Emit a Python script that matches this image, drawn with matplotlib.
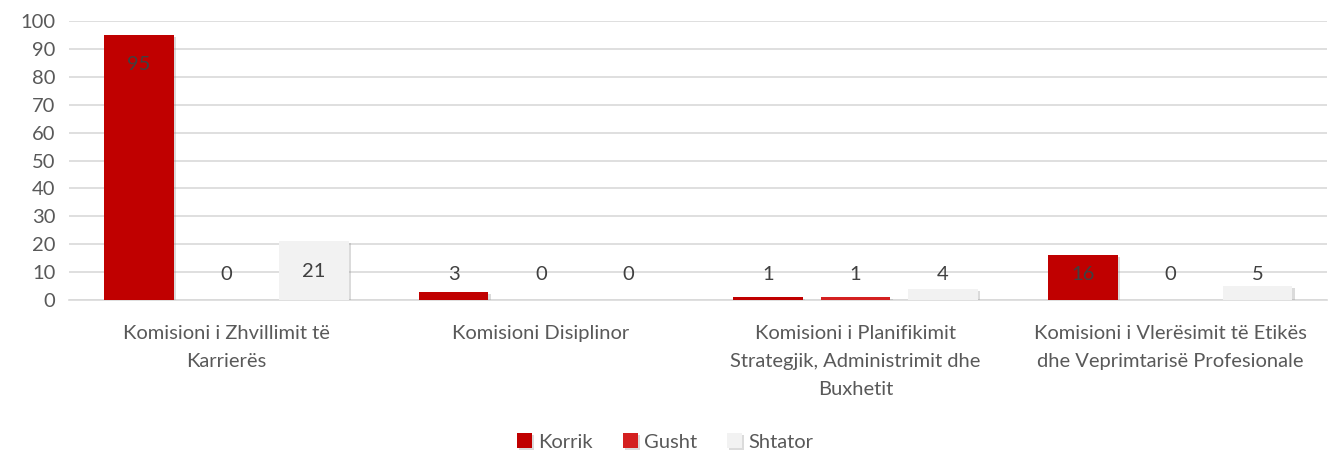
import matplotlib
matplotlib.use("Agg")
import matplotlib.pyplot as plt
import matplotlib.patheffects as pe
import numpy as np

categories = ["Komisioni i Zhvillimit të\nKarrierës",
              "Komisioni Disiplinor",
              "Komisioni i Planifikimit\nStrategjik, Administrimit dhe\nBuxhetit",
              "Komisioni i Vlerësimit të Etikës\ndhe Veprimtarisë Profesionale"]
series_names = ["Korrik", "Gusht", "Shtator"]
korrik = [95, 3, 1, 16]
gusht = [0, 0, 1, 0]
shtator = [21, 0, 4, 5]
colors = ["#C00000", "#D42020", "#F2F2F2"]

plt.rcParams['font.family'] = ['Lato', 'DejaVu Sans']
fig = plt.figure(figsize=(13.3, 4.51), dpi=100)
ax = fig.add_axes([0.052, 0.335, 0.946, 0.618])

x = np.arange(len(categories))
width = 0.222
step = 0.278
shadow = [pe.withSimplePatchShadow(offset=(1.5, -1.5), shadow_rgbFace="#999999", alpha=0.35)]
for i, (vals, name, c) in enumerate(zip([korrik, gusht, shtator], series_names, colors)):
    pos = x + (i - 1) * step
    ax.bar(pos, vals, width, color=c, label=name, zorder=3, path_effects=shadow)
    for p, v in zip(pos, vals):
        ly = max(v - 10.7, 9)
        ax.text(p, ly, str(v), ha="center", va="center", fontsize=14.5, color="#404040", zorder=4)

ax.set_xlim(-0.5, len(categories) - 0.5)
ax.set_ylim(0, 100)
ax.set_yticks(range(0, 101, 10))
ax.yaxis.grid(True, color="#D9D9D9", linewidth=1.2, zorder=0)
ax.set_axisbelow(True)
for s in ["top", "right", "left"]:
    ax.spines[s].set_visible(False)
ax.spines["bottom"].set_color("#D9D9D9")
ax.spines["bottom"].set_linewidth(1.2)
ax.tick_params(axis="y", length=0, labelsize=14.5, labelcolor="#595959", pad=10)
ax.tick_params(axis="x", length=0, labelsize=14.5, labelcolor="#595959", pad=18)
ax.set_xticks(x)
ax.set_xticklabels(categories, linespacing=1.8)

handles, labels = ax.get_legend_handles_labels()
fig.legend(handles, labels, loc="center", bbox_to_anchor=(0.5, 0.02), ncol=3, frameon=False,
           fontsize=14.5, labelcolor="#595959", handlelength=0.75, handleheight=0.75,
           handletextpad=0.3, columnspacing=1.5)

fig.savefig("out.png", dpi=100)
